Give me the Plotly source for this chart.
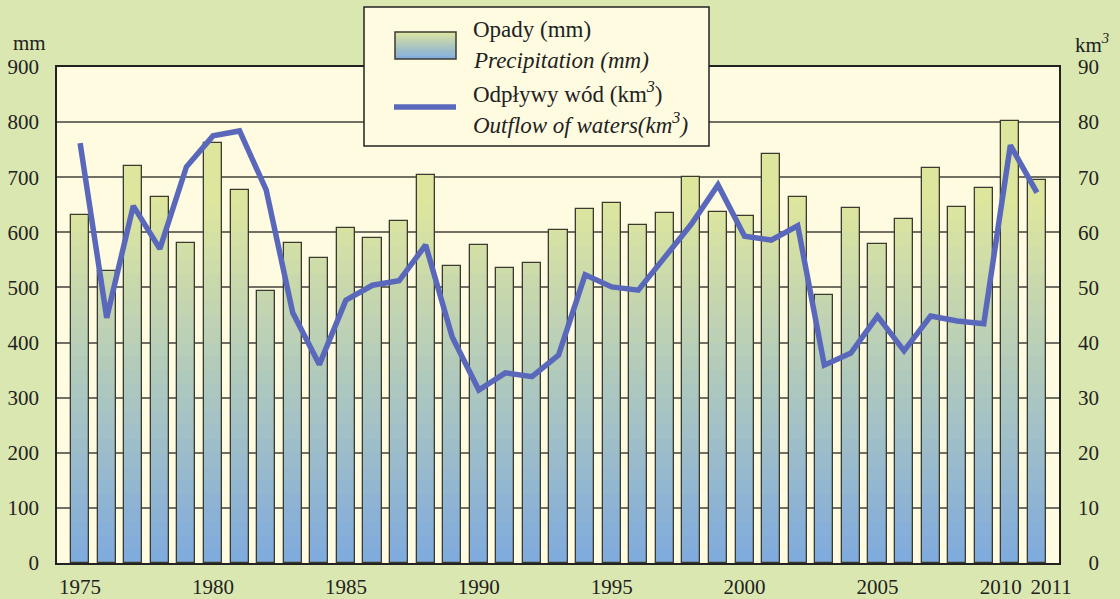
import plotly.graph_objects as go

years = list(range(1975, 2012))
precip_mm = [631, 530, 721, 664, 581, 763, 676, 494, 581, 554,
             608, 590, 621, 704, 539, 577, 535, 544, 604, 642,
             653, 613, 635, 700, 637, 630, 742, 664, 486, 644,
             579, 624, 717, 646, 680, 802, 695]
outflow_km3 = [76.2, 44.5, 64.8, 57.0, 71.9, 77.5, 78.4, 67.7, 45.4, 36.0,
               47.7, 50.4, 51.2, 57.7, 41.0, 31.4, 34.5, 33.8, 37.7, 52.3,
               50.1, 49.5, 55.5, 61.5, 68.6, 59.3, 58.6, 61.2, 35.9, 38.1,
               44.8, 38.5, 44.8, 43.9, 43.4, 75.8, 67.2]
left_ticks = list(range(0, 901, 100))
right_ticks = list(range(0, 91, 10))
year_ticks = [1975, 1980, 1985, 1990, 1995, 2000, 2005, 2010, 2011]
year_tick_pos = [1975, 1980, 1985, 1990, 1995, 2000, 2005, 2009.64, 2011.53]

FONT = "Liberation Serif"
PAPER = "#dbe7b0"
PLOTBG = "#fefbe0"
LINE_COLOR = "#5a68bb"
BLUE = (126, 170, 222)
YELLOW = (222, 230, 158)
GRAD_TOP = 650.0


def grad_color(v):
    t = max(0.0, min(1.0, v / GRAD_TOP))
    c = [round(BLUE[i] + (YELLOW[i] - BLUE[i]) * t) for i in range(3)]
    return f"rgb({c[0]},{c[1]},{c[2]})"


BAR_W = 0.68
STEP = 25
fig = go.Figure()

# gradient-filled bars built from stacked segments of the precipitation values
for k in range(0, 900 // STEP):
    lo = k * STEP
    heights = []
    for v in precip_mm:
        h = min(v, lo + STEP + 1) - lo
        heights.append(h if h > 0 else None)
    fig.add_trace(go.Bar(
        x=years, y=heights, base=[lo] * len(years), width=BAR_W,
        marker=dict(color=grad_color(lo + STEP / 2), line=dict(width=0), opacity=1),
        hoverinfo="skip", showlegend=False,
    ))

# outline of each bar
fig.add_trace(go.Bar(
    x=years, y=precip_mm, width=BAR_W, name="Opady (mm)",
    marker=dict(color="rgba(0,0,0,0)", line=dict(color="#3a3a30", width=1.3)),
    showlegend=False,
))

fig.add_trace(go.Scatter(
    x=years, y=outflow_km3, yaxis="y2", mode="lines",
    line=dict(color=LINE_COLOR, width=5.5), name="Odpływy wód (km3)",
    showlegend=False,
))

W, H = 1120, 599
L, R, T, B = 57, 61, 67, 36
pw, ph = W - L - R, H - T - B


def px_x(x):
    return (x - L) / pw


def px_y(y):
    return (H - B - y) / ph


fig.update_layout(
    width=W, height=H,
    margin=dict(l=L, r=R, t=T, b=B, autoexpand=False),
    paper_bgcolor=PAPER, plot_bgcolor=PLOTBG,
    barmode="overlay", bargap=0,
    font=dict(family=FONT, size=21, color="#222222"),
    showlegend=False,
    xaxis=dict(
        range=[1974.13, 2011.83], tickvals=year_tick_pos, automargin=False,
        ticktext=[str(y) for y in year_ticks], ticks="", showgrid=False,
        showline=True, linecolor="#222222", linewidth=1.5, mirror=True,
        zeroline=False, ticklabelstandoff=4,
        tickfont=dict(family=FONT, size=21, color="#222222"),
    ),
    yaxis=dict(
        range=[0, 900], tickvals=left_ticks, ticks="", automargin=False,
        showgrid=True, gridcolor="#707064", gridwidth=1.5,
        showline=True, linecolor="#222222", linewidth=1.5, mirror=True,
        zeroline=False, ticklabelstandoff=12,
        tickfont=dict(family=FONT, size=21, color="#222222"),
    ),
    yaxis2=dict(
        range=[0, 90], tickvals=right_ticks, automargin=False,
        ticktext=[("\u2007" + str(v)) if v < 10 else str(v) for v in right_ticks],
        overlaying="y", side="right", ticks="", showgrid=False,
        zeroline=False, showline=False, ticklabelstandoff=18,
        tickfont=dict(family=FONT, size=21, color="#222222"),
    ),
)

shapes = []
# legend box
shapes.append(dict(type="rect", xref="paper", yref="paper",
                   x0=px_x(364), x1=px_x(709), y0=px_y(146), y1=px_y(7),
                   fillcolor=PLOTBG, line=dict(color="#222222", width=1.5),
                   layer="above"))
# legend swatch gradient
sw_x0, sw_x1, sw_top, sw_bot = 395, 456, 32, 59
n_strips = 14
for i in range(n_strips):
    y_top = sw_top + (sw_bot - sw_top) * i / n_strips
    y_bot = sw_top + (sw_bot - sw_top) * (i + 1) / n_strips + 0.6
    t = 1 - (i + 0.5) / n_strips
    shapes.append(dict(type="rect", xref="paper", yref="paper",
                       x0=px_x(sw_x0), x1=px_x(sw_x1),
                       y0=px_y(min(y_bot, sw_bot)), y1=px_y(y_top),
                       fillcolor=grad_color(t * GRAD_TOP), line=dict(width=0),
                       layer="above"))
shapes.append(dict(type="rect", xref="paper", yref="paper",
                   x0=px_x(sw_x0), x1=px_x(sw_x1), y0=px_y(sw_bot), y1=px_y(sw_top),
                   fillcolor="rgba(0,0,0,0)", line=dict(color="#3a3a30", width=1.5),
                   layer="above"))
# legend line
shapes.append(dict(type="line", xref="paper", yref="paper",
                   x0=px_x(394), x1=px_x(456), y0=px_y(107), y1=px_y(107),
                   line=dict(color=LINE_COLOR, width=5.5), layer="above"))
fig.update_layout(shapes=shapes)

legend_texts = [
    ("Opady (mm)", 30),
    ("<i>Precipitation (mm)</i>", 61),
    ("Odpływy wód (km<sup><i>3</i></sup>)", 92),
    ("<i>Outflow of waters(km<sup>3</sup>)</i>", 123),
]
for txt, yc in legend_texts:
    fig.add_annotation(text=txt, xref="paper", yref="paper",
                       x=px_x(471), y=px_y(yc), xanchor="left", yanchor="middle",
                       showarrow=False, font=dict(family=FONT, size=23, color="#222222"))

fig.add_annotation(text="mm", xref="paper", yref="paper", x=px_x(11), y=px_y(43),
                   xanchor="left", yanchor="middle", showarrow=False,
                   font=dict(family=FONT, size=21, color="#222222"))
fig.add_annotation(text="km<sup><i>3</i></sup>", xref="paper", yref="paper",
                   x=px_x(1073), y=px_y(43), xanchor="left", yanchor="middle",
                   showarrow=False, font=dict(family=FONT, size=21, color="#222222"))

fig.write_html(
    "out.html",
    config={"displayModeBar": False},
    post_script="document.body.style.margin='0';document.body.style.padding='0';"
                "document.documentElement.style.overflow='hidden';",
)
